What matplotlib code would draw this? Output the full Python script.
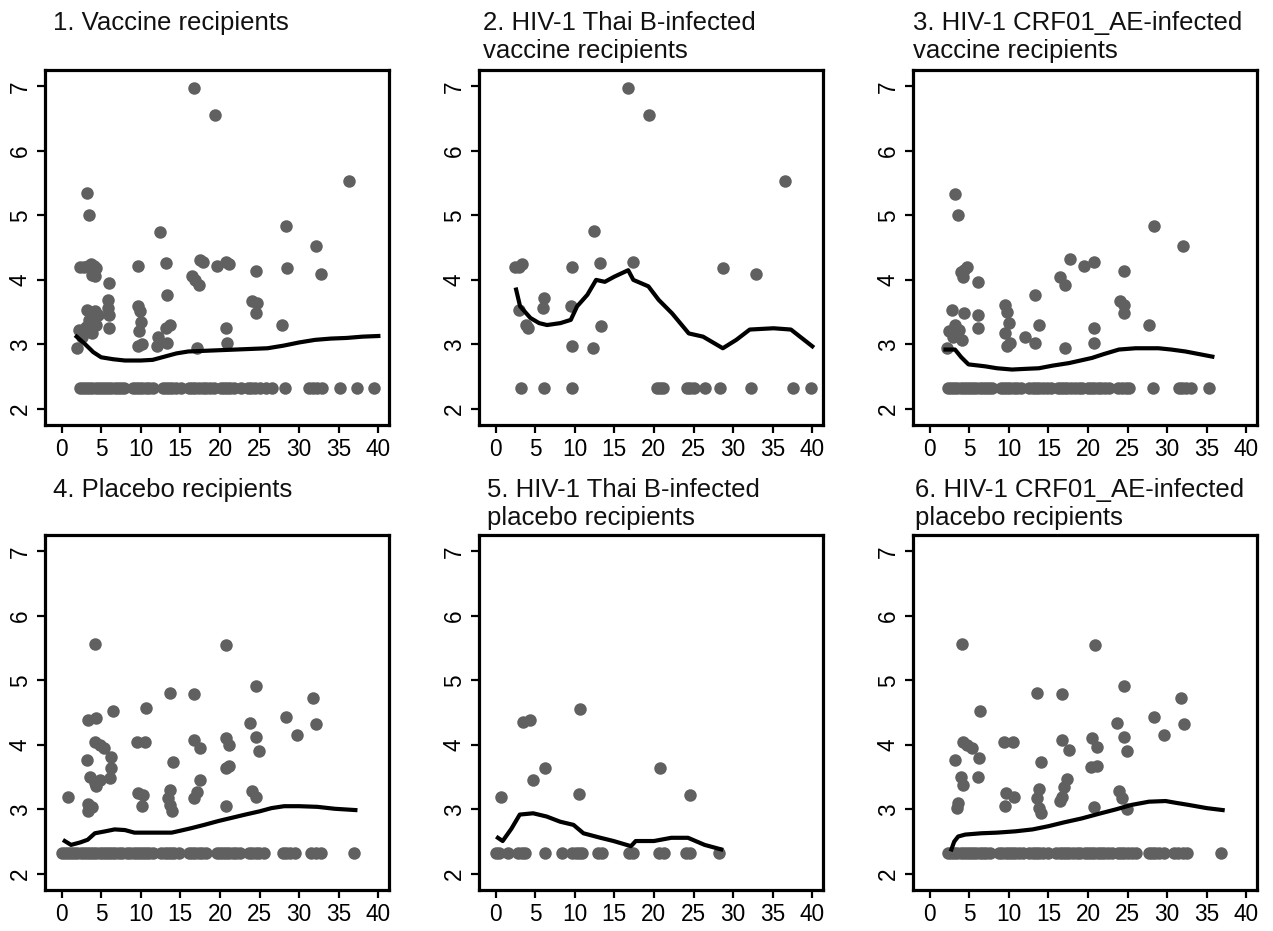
import matplotlib
matplotlib.use("Agg")
import matplotlib.pyplot as plt

plt.rcParams['font.family'] = ['Liberation Sans', 'DejaVu Sans']

# lower limit of quantification (log10 viral load), censored points sit here
lower_limit = 2.32

# ---------- 1. Vaccine recipients ----------
p1_pts = [(16.7, 6.98), (19.4, 6.55), (36.3, 5.53), (3.2, 5.34), (3.5, 5.00), (12.4, 4.75),
          (28.3, 4.84), (32.1, 4.52), (32.7, 4.09), (28.5, 4.19), (24.5, 4.14), (9.7, 4.21),
          (13.2, 4.26), (17.5, 4.31), (17.8, 4.27), (16.5, 4.06), (16.9, 4.00), (17.3, 3.92),
          (19.6, 4.22), (20.8, 4.28), (21.1, 4.25), (2.3, 4.20), (2.8, 4.20), (3.3, 4.22),
          (3.7, 4.25), (4.1, 4.22), (4.4, 4.18), (3.8, 4.08), (4.2, 4.06), (6.0, 3.95),
          (5.9, 3.69), (5.9, 3.57), (6.0, 3.45), (6.0, 3.26), (9.7, 3.60), (9.9, 3.52),
          (10.0, 3.35), (9.8, 3.20), (9.6, 2.97), (10.1, 3.00), (13.3, 3.77), (13.7, 3.30),
          (13.2, 3.26), (12.2, 3.12), (12.1, 2.98), (13.3, 3.02), (17.1, 2.94), (20.7, 3.25),
          (20.9, 3.02), (24.1, 3.67), (24.7, 3.64), (24.6, 3.48), (27.8, 3.30), (1.9, 2.94),
          (2.2, 3.22), (2.8, 3.22), (3.2, 3.54), (3.6, 3.50), (4.2, 3.51), (4.6, 3.45),
          (4.0, 3.35), (3.5, 3.38), (3.1, 3.27), (3.8, 3.17), (2.6, 3.12), (4.4, 3.30)]
p1_cens = [2.3, 2.7, 3.1, 3.5, 3.9, 4.3, 4.7, 5.1, 5.5, 5.9, 6.3, 6.7, 7.1, 7.5, 7.9,
           9.0, 9.4, 9.8, 10.2, 10.6, 11.0, 11.5, 12.8, 13.2, 13.6, 14.0, 14.5, 15.1,
           16.1, 16.5, 16.9, 17.3, 17.8, 18.3, 18.8, 19.3, 20.1, 20.5, 20.9, 21.3, 21.8,
           22.6, 23.5, 23.9, 24.4, 25.1, 25.8, 26.6, 28.2, 31.3, 31.8, 32.3, 32.9, 35.2,
           37.3, 39.5]
p1_fit = [(1.9, 3.12), (3.0, 3.00), (4.0, 2.88), (5.0, 2.80), (6.5, 2.77), (8.0, 2.75),
          (10.0, 2.75), (11.5, 2.76), (13.0, 2.81), (14.5, 2.86), (16.0, 2.89), (18.0, 2.90),
          (20.0, 2.91), (22.0, 2.92), (24.0, 2.93), (26.0, 2.94), (28.0, 2.98), (30.0, 3.03),
          (32.0, 3.07), (34.0, 3.09), (36.0, 3.10), (38.0, 3.12), (40.0, 3.13)]

# ---------- 2. Thai B-infected vaccine recipients ----------
p2_pts = [(16.75, 6.98), (19.4, 6.55), (36.5, 5.53), (12.4, 4.76), (2.4, 4.20), (2.9, 4.20),
          (3.4, 4.25), (9.7, 4.20), (13.2, 4.26), (17.4, 4.28), (28.7, 4.19), (32.9, 4.09),
          (6.07, 3.72), (6.0, 3.56), (9.5, 3.60), (2.9, 3.54), (3.9, 3.30), (4.1, 3.25),
          (13.3, 3.28), (9.7, 2.97), (12.3, 2.94)]
p2_cens = [3.2, 6.07, 9.7, 20.4, 20.8, 21.1, 24.2, 24.6, 25.1, 26.4, 28.4, 32.3, 37.5, 39.8]
p2_fit = [(2.6, 3.85), (3.1, 3.59), (4.4, 3.41), (5.5, 3.33), (6.5, 3.30), (8.2, 3.33),
          (9.5, 3.38), (10.3, 3.59), (11.6, 3.77), (12.7, 4.00), (13.8, 3.97), (15.0, 4.05),
          (16.75, 4.15), (17.4, 4.00), (19.3, 3.90), (20.6, 3.69), (22.3, 3.48), (24.4, 3.17),
          (26.2, 3.12), (28.7, 2.94), (30.4, 3.07), (32.1, 3.23), (35.1, 3.25), (37.3, 3.23),
          (40.0, 2.97)]

# ---------- 3. CRF01_AE-infected vaccine recipients ----------
p3_pts = [(3.24, 5.33), (3.6, 5.00), (3.9, 4.12), (4.2, 4.05), (4.7, 4.20), (4.4, 4.15),
          (6.1, 3.96), (6.1, 3.46), (6.1, 3.25), (2.8, 3.54), (4.3, 3.48), (2.2, 2.94),
          (2.4, 3.20), (3.0, 3.12), (3.66, 3.23), (4.1, 3.07), (3.2, 3.30), (9.56, 3.61),
          (9.8, 3.50), (10.0, 3.33), (9.56, 3.18), (9.8, 2.97), (10.2, 3.02), (13.3, 3.77),
          (12.1, 3.12), (13.3, 3.02), (13.8, 3.30), (16.5, 4.05), (17.1, 3.92), (17.7, 4.32),
          (17.1, 2.94), (19.5, 4.22), (20.8, 4.28), (20.7, 3.25), (20.8, 3.02), (24.1, 3.67),
          (24.6, 3.61), (24.6, 3.48), (24.5, 4.14), (27.7, 3.30), (28.3, 4.84), (32.0, 4.52)]
p3_cens = [2.3, 2.7, 3.1, 3.5, 3.9, 4.3, 4.7, 5.1, 5.5, 5.9, 6.3, 6.7, 7.1, 7.5, 7.9,
           9.0, 9.4, 9.8, 10.2, 10.6, 11.0, 11.5, 12.6, 13.0, 13.4, 13.8, 14.3, 14.8, 15.3,
           16.2, 16.6, 17.0, 17.4, 17.9, 18.4, 18.8, 19.2, 20.0, 20.4, 20.8, 21.2, 21.6,
           22.1, 22.6, 23.8, 24.3, 24.8, 25.2, 28.2, 31.5, 31.9, 32.4, 33.0, 35.3]
p3_fit = [(2.0, 2.92), (3.2, 2.92), (4.0, 2.80), (4.9, 2.69), (7.0, 2.66), (8.5, 2.63),
          (10.4, 2.61), (12.0, 2.62), (13.8, 2.63), (15.5, 2.67), (17.6, 2.71), (20.5, 2.79),
          (22.0, 2.85), (23.9, 2.92), (26.0, 2.94), (28.9, 2.94), (30.5, 2.92), (32.3, 2.89),
          (34.0, 2.85), (35.7, 2.81)]

# ---------- 4. Placebo recipients ----------
p4_pts = [(0.84, 3.20), (4.2, 5.56), (3.4, 4.39), (4.4, 4.41), (3.2, 3.77), (4.2, 4.05),
          (4.85, 4.00), (5.3, 3.95), (3.6, 3.51), (4.2, 3.41), (4.85, 3.46), (4.4, 3.36),
          (3.4, 3.08), (3.8, 3.03), (3.4, 2.98), (6.5, 4.52), (6.3, 3.82), (6.3, 3.64),
          (6.1, 3.49), (9.5, 4.05), (10.5, 4.05), (10.7, 4.57), (9.7, 3.25), (10.3, 3.22),
          (10.1, 3.05), (13.7, 4.80), (14.1, 3.74), (13.7, 3.30), (13.5, 3.17), (13.7, 3.07),
          (13.9, 2.97), (16.7, 4.79), (16.7, 4.08), (17.5, 3.95), (16.7, 3.17), (17.1, 3.27),
          (17.5, 3.45), (20.7, 5.55), (20.7, 4.10), (21.1, 4.00), (20.7, 3.64), (21.1, 3.67),
          (20.8, 3.05), (23.8, 4.34), (24.6, 4.92), (24.5, 4.13), (24.9, 3.91), (24.05, 3.28),
          (24.5, 3.20), (28.3, 4.44), (29.7, 4.15), (31.8, 4.73), (32.1, 4.33)]
p4_cens = [0.0, 0.4, 0.8, 1.2, 1.6, 2.0, 2.4, 2.8, 3.2, 3.6, 4.0, 4.4, 4.8, 5.2, 5.6, 6.0,
           6.4, 6.8, 7.2, 7.6, 8.3, 8.7, 9.1, 9.5, 9.9, 10.3, 10.7, 11.1, 11.5, 12.6, 13.0,
           13.4, 13.8, 14.2, 14.8, 16.1, 16.5, 16.9, 17.3, 17.7, 18.3, 19.6, 20.0, 20.4,
           20.8, 21.2, 21.6, 22.0, 22.5, 23.7, 24.1, 24.5, 24.9, 25.5, 27.9, 28.4, 28.9,
           29.5, 31.5, 32.1, 32.7, 36.9]
p4_fit = [(0.4, 2.51), (1.2, 2.45), (2.4, 2.49), (3.3, 2.53), (4.2, 2.63), (5.5, 2.66),
          (6.7, 2.69), (8.0, 2.68), (9.2, 2.64), (11.5, 2.64), (13.9, 2.64), (15.0, 2.67),
          (16.4, 2.71), (18.0, 2.76), (19.8, 2.82), (21.5, 2.87), (23.2, 2.92), (25.0, 2.97),
          (26.5, 3.02), (28.1, 3.05), (30.0, 3.05), (32.3, 3.04), (34.5, 3.01), (37.1, 2.99)]

# ---------- 5. Thai B-infected placebo recipients ----------
p5_pts = [(0.72, 3.20), (3.5, 4.36), (4.3, 4.39), (4.75, 3.46), (6.24, 3.64), (10.7, 4.56),
          (10.5, 3.24), (20.8, 3.64), (24.5, 3.23)]
p5_cens = [0.1, 0.5, 1.6, 2.8, 3.3, 3.7, 6.2, 8.4, 9.6, 10.1, 10.5, 10.9, 13.0, 13.4,
           16.8, 17.4, 20.7, 21.3, 24.0, 24.6, 28.2]
p5_fit = [(0.3, 2.56), (0.9, 2.51), (2.0, 2.70), (3.06, 2.92), (4.75, 2.94), (6.45, 2.89),
          (8.15, 2.81), (9.85, 2.76), (11.1, 2.63), (13.25, 2.56), (14.9, 2.51), (17.1, 2.43),
          (17.7, 2.51), (20.0, 2.51), (22.2, 2.56), (24.3, 2.56), (26.4, 2.45), (28.5, 2.38)]

# ---------- 6. CRF01_AE-infected placebo recipients ----------
p6_pts = [(4.1, 5.56), (20.9, 5.55), (24.6, 4.92), (13.6, 4.80), (16.7, 4.79), (31.7, 4.73),
          (6.4, 4.52), (28.3, 4.44), (23.7, 4.34), (32.1, 4.33), (29.6, 4.15), (24.5, 4.13),
          (4.2, 4.05), (4.7, 4.00), (5.3, 3.95), (9.4, 4.05), (10.5, 4.05), (16.7, 4.08),
          (17.6, 3.92), (20.5, 4.10), (21.1, 3.97), (24.9, 3.91), (3.2, 3.77), (6.2, 3.80),
          (14.1, 3.74), (20.4, 3.65), (21.1, 3.68), (6.1, 3.50), (3.9, 3.51), (4.2, 3.38),
          (17.4, 3.47), (17.0, 3.35), (16.7, 3.20), (16.5, 3.13), (9.7, 3.25), (10.6, 3.20),
          (9.5, 3.06), (13.8, 3.31), (13.6, 3.17), (13.8, 3.02), (14.1, 2.95), (23.9, 3.28),
          (24.3, 3.18), (20.7, 3.04), (3.6, 3.10), (3.45, 3.02), (24.9, 3.00)]
p6_cens = [2.3, 2.7, 3.1, 3.5, 3.9, 4.3, 4.7, 5.1, 5.5, 5.9, 6.3, 6.7, 7.1, 7.6,
           8.8, 9.2, 9.6, 10.0, 10.4, 10.8, 11.3, 11.8, 12.6, 13.0, 13.4, 13.8, 14.3, 14.9,
           16.0, 16.4, 16.8, 17.2, 17.6, 18.1, 18.6, 19.0, 19.6, 20.0, 20.4, 20.8, 21.2,
           21.6, 22.0, 22.5, 23.0, 23.8, 24.2, 24.6, 25.0, 25.5, 26.0, 27.7, 28.1, 28.5,
           29.0, 29.6, 30.9, 31.4, 32.0, 32.5, 36.8]
p6_fit = [(2.75, 2.38), (3.1, 2.50), (3.6, 2.58), (4.5, 2.61), (6.5, 2.63), (8.5, 2.64),
          (10.8, 2.66), (13.0, 2.69), (15.0, 2.74), (17.0, 2.80), (19.2, 2.86), (21.3, 2.93),
          (23.5, 3.00), (25.5, 3.07), (27.7, 3.12), (29.8, 3.13), (31.2, 3.10), (32.7, 3.07),
          (35.0, 3.02), (37.0, 2.99)]

titles = [["1. Vaccine recipients"],
          ["2. HIV-1 Thai B-infected", "vaccine recipients"],
          ["3. HIV-1 CRF01_AE-infected", "vaccine recipients"],
          ["4. Placebo recipients"],
          ["5. HIV-1 Thai B-infected", "placebo recipients"],
          ["6. HIV-1 CRF01_AE-infected", "placebo recipients"]]

panels = [(p1_pts, p1_cens, p1_fit), (p2_pts, p2_cens, p2_fit), (p3_pts, p3_cens, p3_fit),
          (p4_pts, p4_cens, p4_fit), (p5_pts, p5_cens, p5_fit), (p6_pts, p6_cens, p6_fit)]

# =========================
# PLOTTING
# =========================
fig = plt.figure(figsize=(12.73, 9.31), dpi=100)

ax_left = [0.0353, 0.3762, 0.7172]
ax_bottom = [0.5435, 0.0440]
title_x = [0.0416, 0.3794, 0.7172, 0.0416, 0.3826, 0.7188]
title_y = [(0.9678, 0.9377), (0.4662, 0.4361)]

for i, (pts, cens, fit) in enumerate(panels):
    row, col = divmod(i, 3)
    ax = fig.add_axes([ax_left[col], ax_bottom[row], 0.27, 0.381])

    px = [p[0] for p in pts]
    py = [p[1] for p in pts]
    ax.plot(px, py, 'o', color='#606060', ms=9, mec='none', zorder=2)
    ax.plot(cens, [lower_limit] * len(cens), 'o', color='#606060', ms=9, mec='none', zorder=2)
    ax.plot([f[0] for f in fit], [f[1] for f in fit], color='black', lw=3.0,
            solid_joinstyle='round', zorder=3)

    ax.set_xlim(-2.1, 41.3)
    ax.set_ylim(1.75, 7.25)
    ax.set_xticks(range(0, 41, 5))
    ax.set_yticks(range(2, 8))
    for s in ax.spines.values():
        s.set_linewidth(2.3)
    ax.tick_params(length=6, width=1.6, labelsize=16.3, pad=3.5)
    plt.setp(ax.get_yticklabels(), rotation=90, va='center')

    for k, line in enumerate(titles[i]):
        fig.text(title_x[i], title_y[row][k], line, fontsize=18.5, ha='left',
                 va='baseline', color='#111111')

fig.savefig("out.png", dpi=100, facecolor='white')
